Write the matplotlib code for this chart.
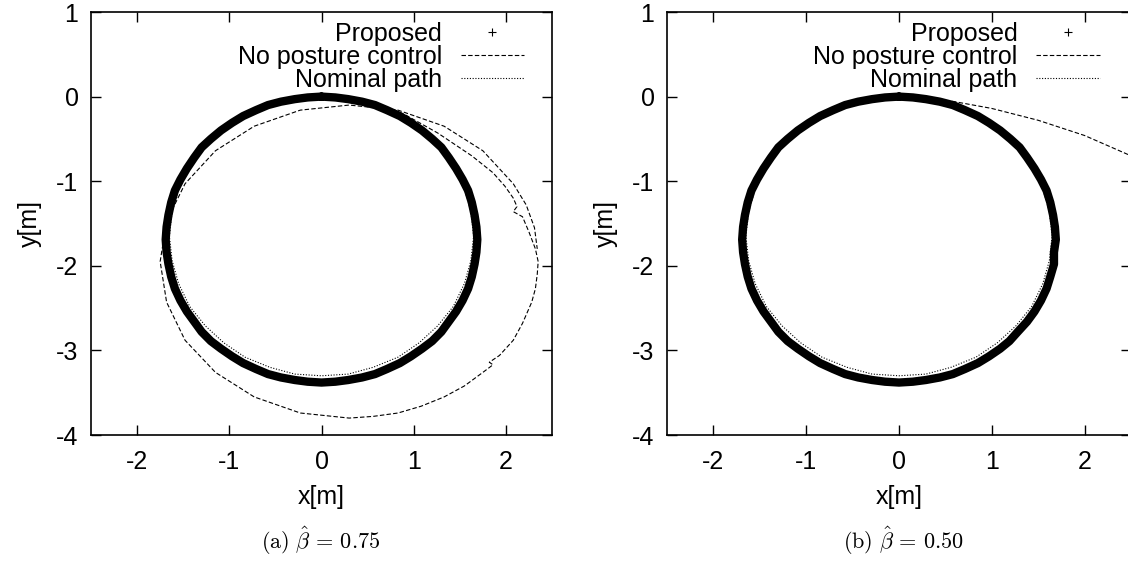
import matplotlib.pyplot as plt
from matplotlib.lines import Line2D

plt.rcParams['font.family'] = 'Liberation Sans'
plt.rcParams['mathtext.fontset'] = 'cm'
plt.rcParams['axes.unicode_minus'] = False

# nominal circular path
nom_x = [0.00, 0.29, 0.56, 0.83, 1.06, 1.26, 1.43, 1.55, 1.62, 1.65, 1.62, 1.55, 1.43, 1.26, 1.06, 0.83, 0.56, 0.29,
         0.00, -0.29, -0.56, -0.83, -1.06, -1.26, -1.43, -1.55, -1.62, -1.65, -1.62, -1.55, -1.43, -1.26, -1.06, -0.83,
         -0.56, -0.29, 0.00]
nom_y = [0.00, -0.03, -0.10, -0.22, -0.39, -0.59, -0.83, -1.09, -1.36, -1.65, -1.94, -2.21, -2.48, -2.71, -2.91, -3.08,
         -3.20, -3.28, -3.30, -3.28, -3.20, -3.08, -2.91, -2.71, -2.48, -2.21, -1.94, -1.65, -1.36, -1.09, -0.83, -0.59,
         -0.39, -0.22, -0.10, -0.03, 0.00]

# proposed controller, beta = 0.75
prop_a_x = [0.00, 0.15, 0.29, 0.44, 0.58, 0.71, 0.85, 0.97, 1.09, 1.20, 1.30, 1.38, 1.46, 1.53, 1.59, 1.63, 1.66, 1.68,
            1.69, 1.68, 1.66, 1.63, 1.59, 1.53, 1.46, 1.38, 1.30, 1.20, 1.09, 0.97, 0.85, 0.71, 0.58, 0.44, 0.29, 0.15,
            0.00, -0.15, -0.29, -0.44, -0.58, -0.71, -0.85, -0.97, -1.09, -1.20, -1.30, -1.38, -1.46, -1.53, -1.59,
            -1.63, -1.66, -1.68, -1.69, -1.68, -1.66, -1.63, -1.59, -1.53, -1.46, -1.38, -1.30, -1.20, -1.09, -0.97,
            -0.85, -0.71, -0.58, -0.44, -0.29, -0.15, 0.00]
prop_a_y = [0.00, -0.01, -0.03, -0.06, -0.10, -0.16, -0.23, -0.31, -0.40, -0.50, -0.60, -0.72, -0.85, -0.98, -1.11,
            -1.25, -1.40, -1.54, -1.69, -1.84, -1.98, -2.13, -2.27, -2.41, -2.54, -2.66, -2.78, -2.89, -2.98, -3.07,
            -3.15, -3.22, -3.28, -3.32, -3.35, -3.37, -3.38, -3.37, -3.35, -3.32, -3.28, -3.22, -3.15, -3.07, -2.98,
            -2.89, -2.78, -2.66, -2.54, -2.41, -2.27, -2.13, -1.98, -1.84, -1.69, -1.54, -1.40, -1.25, -1.11, -0.98,
            -0.85, -0.72, -0.60, -0.50, -0.40, -0.31, -0.23, -0.16, -0.10, -0.06, -0.03, -0.01, 0.00]

# proposed controller, beta = 0.50 (small wobbles on the right side)
prop_b_x = [0.00, 0.15, 0.29, 0.44, 0.58, 0.71, 0.85, 0.97, 1.09, 1.20, 1.30, 1.38, 1.46, 1.53, 1.59, 1.63, 1.66, 1.68,
            1.69, 1.67, 1.67, 1.63, 1.59, 1.53, 1.46, 1.38, 1.28, 1.19, 1.09, 0.97, 0.85, 0.71, 0.58, 0.44, 0.29, 0.15,
            0.00, -0.15, -0.29, -0.44, -0.58, -0.71, -0.85, -0.97, -1.09, -1.20, -1.30, -1.38, -1.46, -1.53, -1.59,
            -1.63, -1.66, -1.68, -1.69, -1.68, -1.66, -1.63, -1.59, -1.53, -1.46, -1.38, -1.30, -1.20, -1.09, -0.97,
            -0.85, -0.71, -0.58, -0.44, -0.29, -0.15, 0.00]
prop_b_y = prop_a_y

# no posture control, beta = 0.75
npc_a_x = [0.00, 0.45, 0.90, 1.26, 1.63, 1.86, 1.99, 2.08, 2.12, 2.08, 2.18, 2.25, 2.32, 2.35, 2.34, 2.32, 2.28, 2.18,
           2.08, 1.93, 1.82, 1.86, 1.75, 1.55, 1.33, 1.08, 0.83, 0.56, 0.30, -0.23, -0.73, -1.15, -1.48, -1.68, -1.75,
           -1.68, -1.48, -1.15, -0.73, -0.23, 0.30, 0.83, 1.33, 1.75, 2.08, 2.22, 2.31, 2.34]
npc_a_y = [0.00, -0.05, -0.21, -0.43, -0.70, -0.90, -1.06, -1.20, -1.30, -1.36, -1.42, -1.60, -1.80, -1.95, -2.10,
           -2.27, -2.43, -2.68, -2.88, -3.06, -3.14, -3.17, -3.26, -3.42, -3.55, -3.66, -3.74, -3.78, -3.80, -3.74,
           -3.55, -3.26, -2.88, -2.43, -1.95, -1.47, -1.03, -0.64, -0.35, -0.16, -0.10, -0.16, -0.35, -0.64, -1.03,
           -1.28, -1.55, -1.80]

# no posture control, beta = 0.50
npc_b_x = [0.00, 0.30, 0.60, 1.00, 1.50, 2.00, 2.50, 2.80]
npc_b_y = [0.00, -0.02, -0.06, -0.14, -0.28, -0.46, -0.70, -0.88]

labels = ['Proposed', 'No posture control', 'Nominal path']
captions = [r'$\mathrm{(a)}\ \hat{\beta}\, =\, 0.75$', r'$\mathrm{(b)}\ \hat{\beta}\, =\, 0.50$']
caption_x = [321 / 1128, 903 / 1128]
legend_x = [0.94, 0.933]

FS = 18

fig = plt.figure(figsize=(11.28, 5.71), dpi=100)
ax1 = fig.add_axes([91 / 1128, 1 - 435 / 571, 461 / 1128, 423 / 571])
ax2 = fig.add_axes([667 / 1128, 1 - 435 / 571, 464 / 1128, 423 / 571])

panels = [(ax1, prop_a_x, prop_a_y, npc_a_x, npc_a_y),
          (ax2, prop_b_x, prop_b_y, npc_b_x, npc_b_y)]

for i, (ax, px, py, qx, qy) in enumerate(panels):
    ax.plot(px, py, color='k', lw=6, solid_joinstyle='round', solid_capstyle='round', zorder=2)
    ln_np, = ax.plot(qx, qy, color='k', lw=0.8, dashes=(4, 2), zorder=3)
    ln_nom, = ax.plot(nom_x, nom_y, color='k', lw=0.8, dashes=(1, 1.5), zorder=3)
    mk = Line2D([], [], color='k', marker='+', ls='none', ms=6, mew=0.8)

    ax.set_xlim(-2.5, 2.5)
    ax.set_ylim(-4, 1)
    ax.set_xticks([-2, -1, 0, 1, 2])
    ax.set_yticks([-4, -3, -2, -1, 0, 1])
    ax.tick_params(direction='in', length=7, width=1, top=True, right=True, labelsize=FS)
    ax.tick_params(axis='x', pad=11)
    ax.tick_params(axis='y', pad=9)
    for s in ax.spines.values():
        s.set_linewidth(1.2)
    ax.set_xlabel('x[m]', fontsize=FS, labelpad=8)
    ax.set_ylabel('y[m]', fontsize=FS, labelpad=10)

    ax.legend([mk, ln_np, ln_nom], labels, loc='upper right', bbox_to_anchor=(legend_x[i], 0.977),
              frameon=False, markerfirst=False, handlelength=2.55, handletextpad=0.75,
              labelspacing=-0.04, borderpad=0, borderaxespad=0, fontsize=FS)

    fig.text(caption_x[i], 1 - 541 / 571, captions[i], ha='center', va='center', fontsize=16)

fig.savefig('out.png', dpi=100)
